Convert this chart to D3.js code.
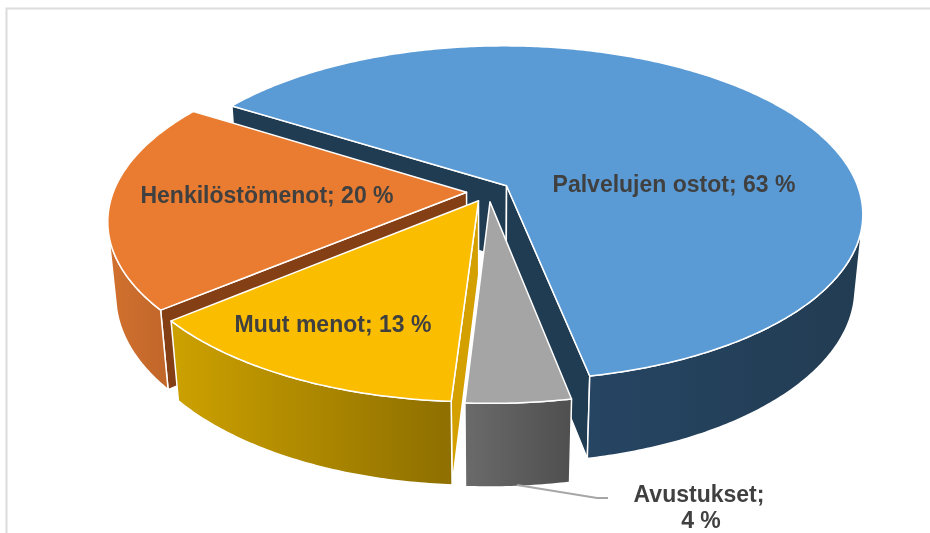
<!DOCTYPE html>
<html>
<head>
<meta charset="utf-8" />
<title>Menot</title>
<script src="https://d3js.org/d3.v7.min.js"></script>
<style>
  html, body { margin: 0; padding: 0; background: #fff; }
  svg { display: block; filter: blur(0.4px); }
  .lbl { font-family: "Liberation Sans", Arial, sans-serif; font-weight: bold; fill: #404040; font-size: 23px; }
</style>
</head>
<body>
<svg id="chart" width="930" height="533"></svg>
<script>
// data, clockwise from the back left edge
var categories = ["Palvelujen ostot", "Avustukset", "Muut menot", "Henkilöstömenot"];
var values = [63, 4, 13, 20];

var topColors = ["#5b9bd5", "#a5a5a5", "#fbbd00", "#e97c30"];
var edgeColors = ["#203c53", "#636363", "#d4a000", "#843f14"];
var wallFrom = ["#264563", "#6b6b6b", "#cba000", "#d0702e"];
var wallTo = ["#223c52", "#4f4f4f", "#8f7000", "#c0662a"];

// label anchors on screen, same order as categories
var labelX = [674, 699, 333, 267];
var labelY = [192, 502, 332, 203];

// camera
var cx = 488.5, cy = 191.5, F = 1900, tilt = 27.8 * Math.PI / 180;
var R = 353, H = 85, explode = 22;
var rot = -57.8 * Math.PI / 180;
var camY = -F * Math.cos(tilt);

function project(X, Y, Z) {
  var d = Y * Math.cos(tilt) - Z * Math.sin(tilt);
  var u = Y * Math.sin(tilt) + Z * Math.cos(tilt);
  var s = F / (F + d);
  return [cx + X * s, cy - u * s];
}

var pie = d3.pie().sort(null).startAngle(rot).endAngle(rot + 2 * Math.PI);
var slices = pie(values);
var line = d3.line();
var svg = d3.select("#chart");

// gradients for the outer walls
var defs = svg.append("defs");
var wallX = [[590, 860], [462, 572], [178, 446], [112, 170]];
slices.forEach(function (d, i) {
  var g = defs.append("linearGradient").attr("id", "wall" + i)
    .attr("gradientUnits", "userSpaceOnUse")
    .attr("x1", wallX[i][0]).attr("x2", wallX[i][1]).attr("y1", 0).attr("y2", 0);
  g.append("stop").attr("offset", 0).attr("stop-color", wallFrom[i]);
  g.append("stop").attr("offset", 1).attr("stop-color", wallTo[i]);
});

// frame
svg.append("path").attr("d", "M6.5,533V8.5H930").attr("fill", "none")
  .attr("stroke", "#dcdcdc").attr("stroke-width", 2);

// blue first, then round the front so nearer slices cover it
var order = [0, 3, 2, 1];
order.forEach(function (i) {
  var d = slices[i];
  var mid = (d.startAngle + d.endAngle) / 2;
  var ox = explode * Math.sin(mid), oy = explode * Math.cos(mid);
  var g = svg.append("g");

  var n = Math.ceil((d.endAngle - d.startAngle) * 90);
  var angles = d3.range(n + 1).map(function (k) {
    return d.startAngle + (d.endAngle - d.startAngle) * k / n;
  });
  var rim = function (a, z) {
    return project(ox + R * Math.sin(a), oy + R * Math.cos(a), z);
  };
  var c0 = project(ox, oy, 0), c1 = project(ox, oy, -H);

  // flat cut faces, only when they turn towards the camera
  var cuts = [
    { a: d.startAngle, nx: -Math.cos(d.startAngle), ny: Math.sin(d.startAngle) },
    { a: d.endAngle, nx: Math.cos(d.endAngle), ny: -Math.sin(d.endAngle) }
  ];
  cuts.forEach(function (e) {
    if ((0 - ox) * e.nx + (camY - oy) * e.ny <= 0) return;
    g.append("path")
      .attr("d", line([c0, rim(e.a, 0), rim(e.a, -H), c1]) + "Z")
      .attr("fill", edgeColors[i])
      .attr("stroke", "#fff").attr("stroke-width", 1.5).attr("stroke-linejoin", "round");
  });

  // outer wall, the part that faces the camera
  var front = angles.filter(function (a) {
    var px = ox + R * Math.sin(a), py = oy + R * Math.cos(a);
    return (0 - px) * Math.sin(a) + (camY - py) * Math.cos(a) > 0;
  });
  if (front.length > 1) {
    var upper = front.map(function (a) { return rim(a, 0); });
    var lower = front.map(function (a) { return rim(a, -H); });
    g.append("path")
      .attr("d", line(upper.concat(lower.reverse())) + "Z")
      .attr("fill", "url(#wall" + i + ")")
      .attr("stroke", "#fff").attr("stroke-width", 1.5).attr("stroke-linejoin", "round");
  }

  // top face
  g.append("path")
    .attr("d", line([c0].concat(angles.map(function (a) { return rim(a, 0); }))) + "Z")
    .attr("fill", topColors[i])
    .attr("stroke", "#fff").attr("stroke-width", 1.5).attr("stroke-linejoin", "round");
});

// leader line for the small slice
svg.append("path")
  .attr("d", d3.line()([[517, 485], [597, 498], [608, 498]]))
  .attr("fill", "none").attr("stroke", "#a6a6a6").attr("stroke-width", 2);

// labels
categories.forEach(function (c, i) {
  var t = svg.append("text").attr("class", "lbl").attr("text-anchor", "middle")
    .attr("x", labelX[i]).attr("y", labelY[i]);
  if (i === 1) {
    t.text(c + ";");
    svg.append("text").attr("class", "lbl").attr("text-anchor", "middle")
      .attr("x", labelX[i] + 2).attr("y", labelY[i] + 26).text(values[i] + " %");
  } else {
    t.text(c + "; " + values[i] + " %");
  }
});
</script>
</body>
</html>
